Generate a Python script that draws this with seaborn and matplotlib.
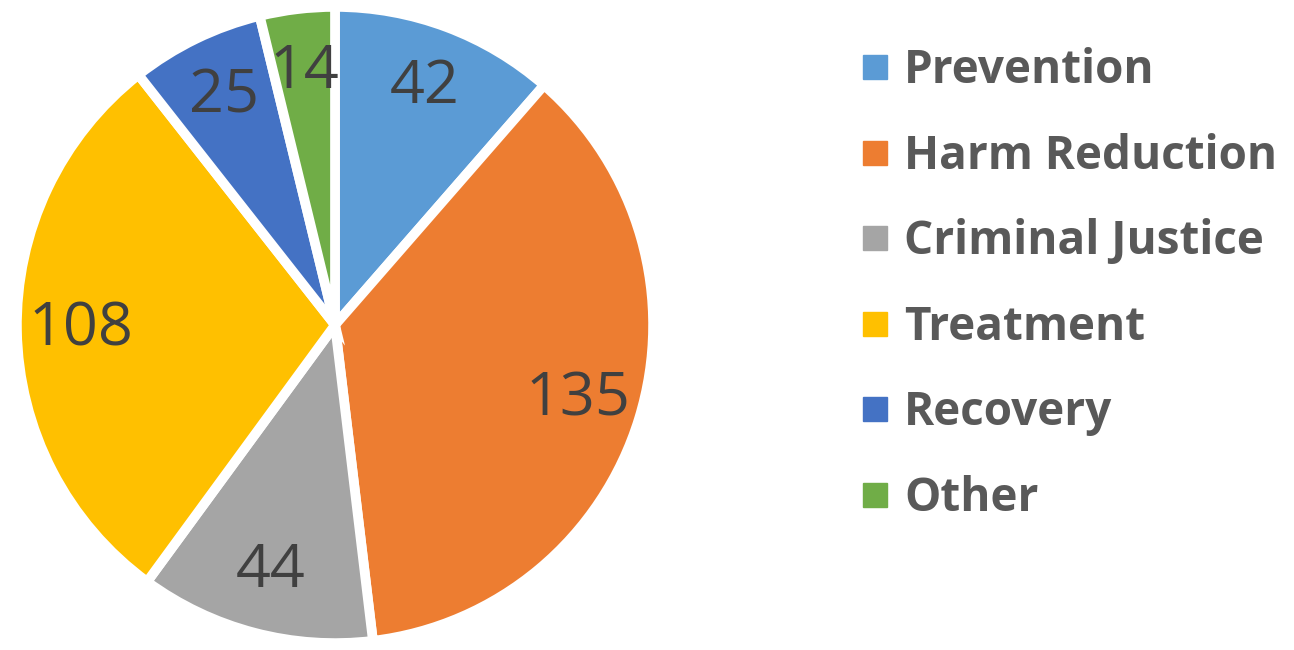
import matplotlib
matplotlib.use("Agg")
import matplotlib.pyplot as plt
import seaborn as sns
from matplotlib.lines import Line2D

sns.set_theme(style="white")
plt.rcParams['font.family'] = ['Open Sans', 'DejaVu Sans']

categories = ['Prevention', 'Harm Reduction', 'Criminal Justice', 'Treatment', 'Recovery', 'Other']
counts = [42, 135, 44, 108, 25, 14]
colors = ['#5B9BD5', '#ED7D31', '#A5A5A5', '#FFC000', '#4472C4', '#70AD47']

fig = plt.figure(figsize=(12.94, 6.5), dpi=100)
# pie axes, square, centred on the left part
ax = fig.add_axes([1 / 1294, -9 / 650, 668 / 1294, 668 / 650])

wedges, _, autotexts = ax.pie(
    counts, colors=colors, startangle=90, counterclock=False,
    autopct=lambda p: f"{round(p * sum(counts) / 100):d}",
    pctdistance=0.8,
    wedgeprops=dict(edgecolor='white', linewidth=7),
    textprops=dict(color='#404040', fontsize=44),
)
ax.set_xlim(-1.05, 1.05)
ax.set_ylim(-1.05, 1.05)
ax.set_aspect('equal')
ax.axis('off')

handles = [Line2D([0], [0], marker='s', linestyle='none', markersize=17,
                  markerfacecolor=c, markeredgecolor=c) for c in colors]
leg = fig.legend(handles, categories, loc='upper left',
                 bbox_to_anchor=(815 / 1294, 1 - 6 / 650),
                 frameon=False, handletextpad=0.25, labelspacing=0.84,
                 prop=dict(size=33, weight='bold'), handlelength=0.8)
for t in leg.get_texts():
    t.set_color('#595959')

fig.savefig('out.png', dpi=100)
